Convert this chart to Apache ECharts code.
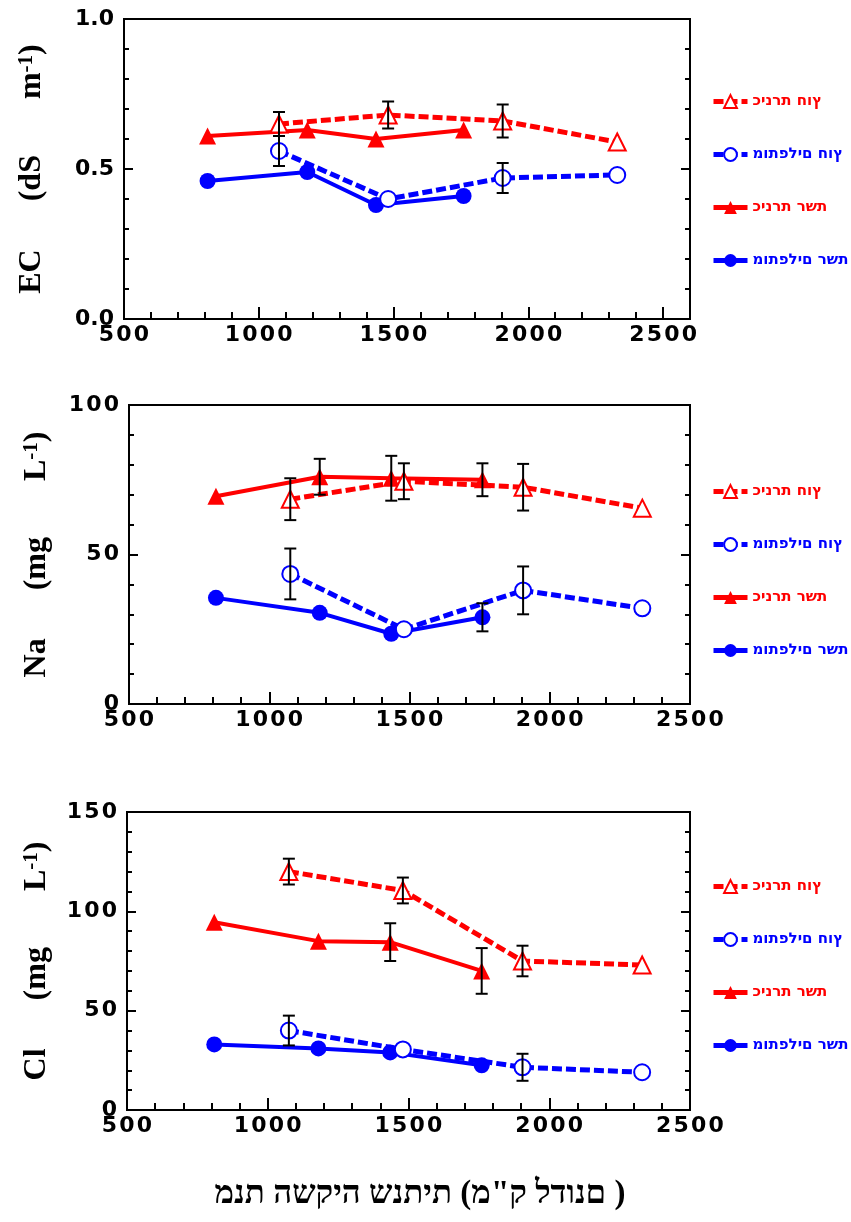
<!DOCTYPE html>
<html lang="he">
<head>
<meta charset="utf-8">
<title>EC / Na / Cl</title>
<script src="https://cdn.jsdelivr.net/npm/echarts@6/dist/echarts.min.js"></script>
<style>
  html, body { margin: 0; padding: 0; background: #fff; }
  #main { width: 851px; height: 1222px; }
</style>
</head>
<body>
<div id="main"></div>
<script>
// x = annual irrigation amount, same for all three panels
var xNet = [810, 1180, 1435, 1760];   // רשת (solid lines)
var xOut = [1075, 1480, 1905, 2330];  // חוץ (dashed lines)

var names = ['כינרת חוץ', 'מותפלים חוץ', 'כינרת רשת', 'מותפלים רשת'];

// EC (dS m-1)
var ecKinOut = [0.65, 0.68, 0.66, 0.59];
var ecMotOut = [0.56, 0.40, 0.47, 0.48];
var ecKinNet = [0.61, 0.63, 0.60, 0.63];
var ecMotNet = [0.46, 0.49, 0.38, 0.41];
var ecKinOutErr = [0.04, 0.045, 0.055, 0];
var ecMotOutErr = [0.05, 0, 0.05, 0];
var ecKinNetErr = [0, 0, 0, 0];
var ecMotNetErr = [0, 0, 0, 0];

// Na (mg L-1)
var naKinOut = [68.5, 74.5, 72.5, 65.5];
var naMotOut = [43.5, 25, 38, 32];
var naKinNet = [69.5, 76, 75.5, 75];
var naMotNet = [35.5, 30.5, 23.5, 29];
var naKinOutErr = [7, 6, 7.8, 0];
var naMotOutErr = [8.5, 0, 8, 0];
var naKinNetErr = [0, 6, 7.5, 5.5];
var naMotNetErr = [0, 0, 0, 4.7];

// Cl (mg L-1)
var clKinOut = [120, 110.5, 75, 73];
var clMotOut = [40, 30.5, 21.5, 19];
var clKinNet = [94.5, 85, 84.5, 70];
var clMotNet = [33, 31, 29, 22.5];
var clKinOutErr = [6.5, 6.5, 7.7, 0];
var clMotOutErr = [7.5, 0, 6.8, 0];
var clKinNetErr = [0, 0, 9.5, 11.5];
var clMotNetErr = [0, 0, 0, 0];

var RED = '#ff0000', BLUE = '#0000ff';
var numFont = 'DejaVu Sans';
var serif = '"Liberation Serif", "DejaVu Serif", serif';
var GAP1 = '\u2003  ', GAP2 = '\u2003   ';
// the figure prints its hebrew letters left to right
var LTR = function (s) { return '\u202D' + s + '\u202C'; };
var spaced = function (s) { return s.split('').join('\u200A'); };

var panels = [
    {grid: {left: 124, top: 19, width: 566, height: 300}, xMax: 2600, yMax: 1, yStep: 0.5,
     name: 'EC' + GAP1 + '(dS' + GAP2 + 'm{s|-1})', nameGap: 76, legendTop: 89, digits: 1,
     kinOut: ecKinOut, motOut: ecMotOut, kinNet: ecKinNet, motNet: ecMotNet,
     errs: [ecKinOutErr, ecMotOutErr, ecKinNetErr, ecMotNetErr]},
    {grid: {left: 129, top: 405, width: 561, height: 299}, xMax: 2500, yMax: 100, yStep: 50,
     name: 'Na' + GAP1 + '(mg' + GAP2 + 'L{s|-1})', nameGap: 76, legendTop: 479, digits: 0,
     kinOut: naKinOut, motOut: naMotOut, kinNet: naKinNet, motNet: naMotNet,
     errs: [naKinOutErr, naMotOutErr, naKinNetErr, naMotNetErr]},
    {grid: {left: 127, top: 812, width: 563, height: 298}, xMax: 2500, yMax: 150, yStep: 50,
     name: 'Cl' + GAP1 + '(mg' + GAP2 + 'L{s|-1})', nameGap: 74, legendTop: 874, digits: 0,
     kinOut: clKinOut, motOut: clMotOut, kinNet: clKinNet, motNet: clMotNet,
     errs: [clKinOutErr, clMotOutErr, clKinNetErr, clMotNetErr]}
];

function pairs(xs, ys) {
    return xs.map(function (x, i) { return [x, ys[i]]; });
}

function errorBar(params, api) {
    var x = api.value(0);
    var lo = api.coord([x, api.value(1)]);
    var hi = api.coord([x, api.value(2)]);
    var hw = 6;
    var st = {stroke: '#000', lineWidth: 2};
    return {type: 'group', children: [
        {type: 'line', shape: {x1: hi[0], y1: hi[1], x2: lo[0], y2: lo[1]}, style: st},
        {type: 'line', shape: {x1: hi[0] - hw, y1: hi[1], x2: hi[0] + hw, y2: hi[1]}, style: st},
        {type: 'line', shape: {x1: lo[0] - hw, y1: lo[1], x2: lo[0] + hw, y2: lo[1]}, style: st}
    ]};
}

var blackLine = {color: '#000', width: 2};
var grids = [], xAxes = [], yAxes = [], series = [], legends = [];

panels.forEach(function (p, k) {
    grids.push(Object.assign({show: true, borderColor: '#000', borderWidth: 2}, p.grid));

    // minor ticks every 100 and labels
    xAxes.push({
        gridIndex: k, type: 'value', min: 500, max: p.xMax, interval: 100, position: 'bottom',
        axisLine: {show: true, onZero: false, lineStyle: blackLine},
        axisTick: {show: true, inside: true, length: 7, lineStyle: blackLine},
        axisLabel: {
            margin: 5, color: '#000', fontFamily: numFont, fontWeight: 'bold', fontSize: 22,
            formatter: function (v) { return v % 500 === 0 ? spaced(String(v)) : ''; }
        },
        splitLine: {show: false}
    });
    // major ticks every 500
    xAxes.push({
        gridIndex: k, type: 'value', min: 500, max: p.xMax, interval: 500, position: 'bottom',
        axisLine: {show: false, onZero: false},
        axisTick: {show: true, inside: true, length: 12, lineStyle: blackLine},
        axisLabel: {show: false},
        splitLine: {show: false}
    });

    var yBase = {
        gridIndex: k, type: 'value', min: 0, max: p.yMax, interval: p.yStep,
        axisLine: {show: true, onZero: false, lineStyle: blackLine},
        axisTick: {show: true, inside: true, length: 9, lineStyle: blackLine},
        minorTick: {show: true, splitNumber: 5, length: 5, lineStyle: blackLine},
        splitLine: {show: false}
    };
    yAxes.push(Object.assign({}, yBase, {
        position: 'left',
        axisLabel: {
            margin: 10, color: '#000', fontFamily: numFont, fontWeight: 'bold', fontSize: 22,
            formatter: function (v) { return p.digits ? v.toFixed(p.digits) : spaced(String(v)); }
        },
        name: p.name, nameLocation: 'middle', nameRotate: 90, nameGap: p.nameGap,
        nameTextStyle: {
            color: '#000', fontFamily: serif, fontWeight: 'bold', fontSize: 32,
            rich: {s: {fontFamily: serif, fontWeight: 'bold', fontSize: 21, verticalAlign: 'top', color: '#000'}}
        }
    }));
    yAxes.push(Object.assign({}, yBase, {position: 'right', axisLabel: {show: false}}));

    var defs = [
        {xs: xOut, ys: p.kinOut, color: RED, dashed: true, symbol: 'triangle', filled: false},
        {xs: xOut, ys: p.motOut, color: BLUE, dashed: true, symbol: 'circle', filled: false},
        {xs: xNet, ys: p.kinNet, color: RED, dashed: false, symbol: 'triangle', filled: true},
        {xs: xNet, ys: p.motNet, color: BLUE, dashed: false, symbol: 'circle', filled: true}
    ];
    var bars = [];
    defs.forEach(function (d, i) {
        series.push({
            name: names[i], type: 'line', xAxisIndex: 2 * k, yAxisIndex: 2 * k,
            data: pairs(d.xs, d.ys),
            symbol: d.symbol, symbolSize: d.symbol === 'circle' ? 16 : 17,
            lineStyle: {color: d.color, width: d.dashed ? 5 : 4, type: d.dashed ? [10, 4] : 'solid'},
            itemStyle: d.filled ? {color: d.color} : {color: '#fff', borderColor: d.color, borderWidth: 2},
            z: d.dashed ? 3 : 2
        });
        d.xs.forEach(function (x, j) {
            var e = p.errs[i][j];
            if (e > 0) bars.push([x, d.ys[j] - e, d.ys[j] + e]);
        });
    });
    series.push({
        type: 'custom', xAxisIndex: 2 * k, yAxisIndex: 2 * k,
        renderItem: errorBar, encode: {x: 0, y: [1, 2]}, data: bars, z: 6
    });

    legends.push({
        orient: 'vertical', left: 706, top: p.legendTop, itemWidth: 34, itemHeight: 16, itemGap: 38,
        selectedMode: false,
        formatter: LTR,
        lineStyle: {width: 5},
        textStyle: {fontFamily: 'DejaVu Sans', fontWeight: 'bold', fontSize: 15},
        data: names.map(function (n, i) {
            return {name: n, textStyle: {color: i % 2 === 0 ? RED : BLUE}};
        })
    });
});

var chart = echarts.init(document.getElementById('main'));
chart.setOption({
    animation: false,
    backgroundColor: '#fff',
    grid: grids,
    xAxis: xAxes,
    yAxis: yAxes,
    legend: legends,
    series: series,
    graphic: [{
        type: 'text', x: 420, y: 1194,
        style: {
            text: LTR('מנת השקיה שנתית (מ"ק לדונם )'),
            font: 'bold 33px ' + serif, fill: '#000',
            align: 'center', verticalAlign: 'middle'
        }
    }]
});
</script>
</body>
</html>
